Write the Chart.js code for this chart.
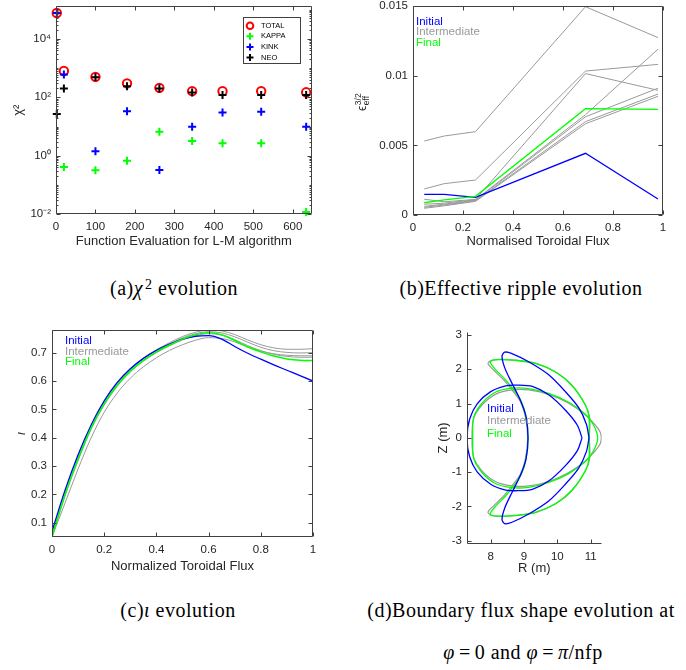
<!DOCTYPE html>
<html>
<head>
<meta charset="utf-8">
<script src="https://cdn.jsdelivr.net/npm/chart.js@4.4.1/dist/chart.umd.min.js"></script>
<style>
  body { margin: 0; background: #fff; }
  #page { position: relative; width: 686px; height: 670px; overflow: hidden; }
  canvas { position: absolute; }
  .cap { position: absolute; transform: translate(-50%, -50%); white-space: nowrap;
         font-family: "Liberation Serif", "DejaVu Serif", serif; font-size: 20px; letter-spacing: 0.5px;
         line-height: 1; color: #000; }
  .cap sup { font-size: 0.7em; vertical-align: 0.45em; line-height: 0; margin-left: 2px; }
  .cap .eq { margin: 0 4px; }
</style>
</head>
<body>
<div id="page">
  <canvas id="chartA" width="330" height="250" style="left:0;top:0"></canvas>
  <canvas id="chartB" width="346" height="250" style="left:340px;top:0"></canvas>
  <canvas id="chartC" width="330" height="260" style="left:0;top:320px"></canvas>
  <canvas id="chartD" width="200" height="260" style="left:420px;top:320px"></canvas>
  <div class="cap" style="left:174px;top:288px">(a)<i>χ</i><sup>2</sup> evolution</div>
  <div class="cap" style="left:521px;top:288px">(b)Effective ripple evolution</div>
  <div class="cap" style="left:178px;top:610px">(c)<i>ι</i> evolution</div>
  <div class="cap" style="left:521px;top:610px">(d)Boundary flux shape evolution at</div>
  <div class="cap" style="left:523px;top:652px"><i>φ</i><span class="eq">=</span>0 and <i>φ</i><span class="eq">=</span><i>π</i>/nfp</div>
</div>
<script>
// (a) chi^2 contributions per function evaluation
const evalA = [2, 20, 100, 180, 262, 345, 422, 520, 634];
const chiTotal = [76000, 790, 500, 300, 210, 162, 162, 162, 148];
const chiKappa = [null, 0.41, 0.32, 0.68, 6.6, 3.2, 2.7, 2.7, 0.012];
const chiKink = [76000, 600, 1.44, 33, 0.33, 9.8, 30, 32, 9.8];
const chiNeo = [27, 200, 480, 240, 200, 145, 120, 120, 120];
const chiTicks = [0.01, 1, 100, 10000];
const chiTickLabels = ['10\u207B\u00B2', '10\u2070', '10\u00B2', '10\u2074'];
const evalTicks = [0, 100, 200, 300, 400, 500, 600];

// (b) effective ripple
const fluxB = [0.045, 0.125, 0.25, 0.69, 0.98];
const epsInitial = [0.00148, 0.00148, 0.00127, 0.00443, 0.00115];
const epsFinal = [0.00088, 0.00108, 0.00134, 0.00763, 0.00758];
const epsMid1 = [0.00531, 0.00567, 0.00598, 0.01495, 0.01273];
const epsMid2 = [0.00187, 0.00225, 0.00251, 0.01033, 0.01081];
const epsMid3 = [0.00113, 0.00095, 0.00112, 0.01015, 0.00895];
const epsMid4 = [0.00077, 0.00085, 0.00110, 0.00720, 0.01190];
const epsMid5 = [0.00062, 0.00078, 0.00106, 0.00705, 0.00910];
const epsMid6 = [0.00055, 0.00072, 0.00102, 0.00670, 0.00868];
const epsMid7 = [0.00048, 0.00066, 0.00098, 0.00655, 0.00852];
const epsTicks = [0, 0.005, 0.01, 0.015];
const epsTickLabels = ['0', '0.005', '0.01', '0.015'];
const fluxTicks = [0, 0.2, 0.4, 0.6, 0.8, 1];
const fluxTickLabels = ['0', '0.2', '0.4', '0.6', '0.8', '1'];

// (c) rotational transform
const fluxC = [0, 0.05, 0.1, 0.15, 0.2, 0.25, 0.3, 0.35, 0.4, 0.45, 0.5, 0.55, 0.6, 0.65, 0.7, 0.75, 0.8, 0.85, 0.9, 0.95, 1];
const iotaInitial = [.07, .215, .34, .445, .53, .595, .643, .68, .708, .73, .748, .758, .76, .748, .722, .698, .677, .657, .638, .619, .60];
const iotaFinal = [.05, .20, .325, .435, .52, .585, .635, .673, .703, .727, .748, .763, .77, .763, .743, .72, .703, .688, .678, .673, .672];
const iotaMid1 = [.06, .21, .335, .443, .528, .592, .642, .68, .71, .735, .757, .772, .78, .777, .764, .745, .728, .717, .712, .712, .714];
const iotaMid2 = [.055, .205, .33, .44, .525, .59, .64, .678, .707, .731, .752, .767, .774, .77, .756, .737, .719, .707, .701, .699, .70];
const iotaMid3 = [.05, .195, .32, .43, .515, .582, .632, .67, .70, .724, .745, .76, .767, .762, .746, .725, .707, .694, .687, .684, .684];
const iotaMid4 = [.05, .17, .29, .40, .49, .558, .61, .65, .682, .708, .728, .744, .753, .75, .738, .72, .706, .696, .691, .689, .689];
const iotaTicks = [0.1, 0.2, 0.3, 0.4, 0.5, 0.6, 0.7];
const iotaTickLabels = ['0.1', '0.2', '0.3', '0.4', '0.5', '0.6', '0.7'];

// (d) boundary cross sections (R, Z in m)
const rInitZero = [10.95, 10.87, 10.64, 10.24, 9.74, 9.14, 8.64, 8.42, 8.34, 8.42, 8.64, 8.89, 9.06, 9.12, 9.06, 8.89, 8.64, 8.42, 8.34, 8.42, 8.64, 9.14, 9.74, 10.24, 10.64, 10.87, 10.95];
const zInitZero = [0, 0.4, 0.88, 1.35, 1.84, 2.22, 2.46, 2.5, 2.38, 2.05, 1.59, 1.1, 0.62, 0, -0.62, -1.1, -1.59, -2.05, -2.38, -2.5, -2.46, -2.22, -1.84, -1.35, -0.88, -0.4, 0];
const rInitPi = [10.74, 10.6, 10.25, 9.75, 9.25, 8.8, 8.45, 8.0, 7.6, 7.37, 7.29, 7.37, 7.6, 8.0, 8.45, 8.8, 9.25, 9.75, 10.25, 10.6, 10.74];
const zInitPi = [0, 0.37, 0.8, 1.25, 1.5, 1.54, 1.52, 1.35, 1.0, 0.55, 0, -0.55, -1.0, -1.35, -1.52, -1.54, -1.5, -1.25, -0.8, -0.37, 0];
const rMidZero = [10.96, 10.97, 10.84, 10.44, 9.94, 9.34, 8.74, 8.24, 7.98, 7.92, 8.09, 8.39, 8.64, 8.89, 9.04, 9.11, 9.04, 8.89, 8.64, 8.39, 8.09, 7.92, 7.98, 8.24, 8.74, 9.34, 9.94, 10.44, 10.84, 10.97, 10.96];
const zMidZero = [0, 0.6, 0.96, 1.54, 1.93, 2.18, 2.27, 2.29, 2.24, 2.16, 1.98, 1.69, 1.40, 1.06, 0.62, 0, -0.62, -1.06, -1.40, -1.69, -1.98, -2.16, -2.24, -2.29, -2.27, -2.18, -1.93, -1.54, -0.96, -0.6, 0];
const rMidPi = [11.32, 11.29, 11.14, 10.84, 10.34, 9.74, 9.14, 8.64, 8.14, 7.74, 7.49, 7.44, 7.49, 7.74, 8.14, 8.64, 9.14, 9.74, 10.34, 10.84, 11.14, 11.29, 11.32];
const zMidPi = [0, 0.16, 0.37, 0.67, 1.01, 1.27, 1.40, 1.40, 1.27, 0.96, 0.57, 0, -0.57, -0.96, -1.27, -1.40, -1.40, -1.27, -1.01, -0.67, -0.37, -0.16, 0];
const rFinalZero = [10.95, 10.95, 10.84, 10.44, 9.94, 9.34, 8.74, 8.24, 8.03, 7.99, 8.14, 8.44, 8.69, 8.92, 9.06, 9.12, 9.06, 8.92, 8.69, 8.44, 8.14, 7.99, 8.03, 8.24, 8.74, 9.34, 9.94, 10.44, 10.84, 10.95, 10.95];
const zFinalZero = [0, 0.6, 0.96, 1.52, 1.92, 2.17, 2.26, 2.28, 2.26, 2.2, 2.0, 1.70, 1.40, 1.06, 0.62, 0, -0.62, -1.06, -1.40, -1.70, -2.0, -2.2, -2.26, -2.28, -2.26, -2.17, -1.92, -1.52, -0.96, -0.6, 0];
const rFinalPi = [11.21, 11.19, 11.09, 10.84, 10.34, 9.74, 9.14, 8.64, 8.14, 7.74, 7.49, 7.46, 7.49, 7.74, 8.14, 8.64, 9.14, 9.74, 10.34, 10.84, 11.09, 11.19, 11.21];
const zFinalPi = [0, 0.13, 0.37, 0.69, 1.04, 1.30, 1.44, 1.45, 1.33, 1.01, 0.59, 0, -0.59, -1.01, -1.33, -1.45, -1.44, -1.30, -1.04, -0.69, -0.37, -0.13, 0];
const rTicks = [8, 9, 10, 11];
const zTicks = [-3, -2, -1, 0, 1, 2, 3];

const BLUE = '#0000ff', GREEN = '#00ff00', GRAY = '#999999', AXIS = '#404040';
const legendNames = ['Initial', 'Intermediate', 'Final'];
const legendColors = [BLUE, GRAY, GREEN];
const TITLE_SIZE = 13;

Chart.defaults.font.family = '"Liberation Sans", Arial, sans-serif';
Chart.defaults.color = '#262626';
Chart.defaults.animation = false;
Chart.defaults.responsive = false;
Chart.defaults.plugins.legend.display = false;
Chart.defaults.plugins.tooltip.enabled = false;

function axis(min, max, ticks, labels, size, title, extra) {
  const horiz = size.h !== undefined;
  return Object.assign({
    min: min, max: max,
    grid: { display: false, drawTicks: false },
    border: { display: false },
    afterBuildTicks: s => { s.ticks = ticks.map(v => ({ value: v })); },
    afterFit: s => {
      if (horiz) s.height = size.h; else s.width = size.w;
      s.paddingLeft = s.paddingRight = s.paddingTop = s.paddingBottom = 0;
    },
    ticks: { autoSkip: false, maxRotation: 0, padding: horiz ? 6 : 5, font: { size: 11.5 },
             callback: (v, i) => labels[i] },
    title: title
  }, extra || {});
}

// box, inward tick marks and in-axes legend text, MATLAB style
function frame(box, texts, minorY) {
  return {
    id: 'frame',
    afterDatasetsDraw(chart) {
      const ctx = chart.ctx, a = chart.chartArea;
      const sx = chart.scales.x, sy = chart.scales.y;
      const L = Math.round(a.left) + 0.5, R = Math.round(a.right) - 0.5;
      const T = Math.round(a.top) + 0.5, B = Math.round(a.bottom) - 0.5;
      ctx.save();
      ctx.strokeStyle = AXIS;
      ctx.lineWidth = 1;
      ctx.beginPath();
      ctx.moveTo(L, T); ctx.lineTo(L, B); ctx.lineTo(R, B);
      if (box) { ctx.lineTo(R, T); ctx.lineTo(L, T); }
      sx.ticks.forEach(t => {
        const p = Math.round(sx.getPixelForValue(t.value)) + 0.5;
        ctx.moveTo(p, B); ctx.lineTo(p, B - 4);
        if (box) { ctx.moveTo(p, T); ctx.lineTo(p, T + 4); }
      });
      const ys = sy.ticks.map(t => [t.value, 4]).concat((minorY || []).map(v => [v, 2]));
      ys.forEach(([v, l]) => {
        const p = Math.round(sy.getPixelForValue(v)) + 0.5;
        ctx.moveTo(L, p); ctx.lineTo(L + l, p);
        if (box) { ctx.moveTo(R, p); ctx.lineTo(R - l, p); }
      });
      ctx.stroke();
      if (texts) {
        ctx.font = '11.5px "Liberation Sans", Arial, sans-serif';
        ctx.textBaseline = 'middle';
        texts.ys.forEach((y, i) => {
          ctx.fillStyle = legendColors[i];
          ctx.fillText(legendNames[i], texts.x, y);
        });
      }
      ctx.restore();
    }
  };
}

const pts = (xs, ys) => xs.map((x, i) => ({ x: x, y: ys[i] })).filter(p => p.y !== null);
const curve = (xs, ys, color, w, order, extra) => Object.assign({
  data: pts(xs, ys), showLine: true, borderColor: color, borderWidth: w,
  pointRadius: 0, tension: 0, order: order
}, extra || {});

// ---------- (a) ----------
const minorA = [];
for (let e = -2; e <= 5; e++) {
  for (let k = 1; k <= 9; k++) {
    const v = k * Math.pow(10, e);
    if (v > 0.01 && v < 1.3e5 && !chiTicks.includes(v)) minorA.push(v);
  }
}
const legendA = {
  id: 'legendA',
  afterDatasetsDraw(chart) {
    const ctx = chart.ctx;
    ctx.save();
    ctx.fillStyle = '#fff';
    ctx.fillRect(243, 17, 57, 46);
    ctx.strokeStyle = AXIS; ctx.lineWidth = 1;
    ctx.strokeRect(243.5, 17.5, 57, 46);
    ctx.font = '7.5px "Liberation Sans", Arial, sans-serif';
    ctx.textBaseline = 'middle';
    chart.data.datasets.forEach((d, i) => {
      const y = 25.7 + i * 10.6, x = 250;
      ctx.strokeStyle = d.borderColor; ctx.lineWidth = 2;
      ctx.beginPath();
      if (d.pointStyle === 'circle') ctx.arc(x, y, 3.3, 0, Math.PI * 2);
      else { ctx.moveTo(x - 3.5, y); ctx.lineTo(x + 3.5, y); ctx.moveTo(x, y - 3.5); ctx.lineTo(x, y + 3.5); }
      ctx.stroke();
      ctx.fillStyle = '#000';
      ctx.fillText(d.label, 261, y);
    });
    ctx.restore();
  }
};
const markA = (label, ys, color, style, order) => ({
  label: label, data: pts(evalA, ys), pointStyle: style, borderColor: color,
  backgroundColor: 'rgba(0,0,0,0)', pointBorderWidth: 2,
  pointRadius: style === 'circle' ? 4.2 : 4, order: order, clip: false
});
new Chart(document.getElementById('chartA'), {
  type: 'scatter',
  data: { datasets: [
    markA('TOTAL', chiTotal, '#ff0000', 'circle', 4),
    markA('KAPPA', chiKappa, '#00ff00', 'cross', 3),
    markA('KINK', chiKink, '#0000ff', 'cross', 2),
    markA('NEO', chiNeo, '#000000', 'cross', 1)
  ] },
  options: {
    layout: { padding: { left: 0, right: 18.3, top: 2, bottom: 0 } },
    scales: {
      x: axis(0, 648, evalTicks, evalTicks.map(String), { h: 35.7 },
        { display: true, text: 'Function Evaluation for L-M algorithm', font: { size: TITLE_SIZE }, padding: { bottom: 1.2 } }),
      y: axis(0.01, 1.3e5, chiTicks, chiTickLabels, { w: 56 },
        { display: true, text: 'χ²', font: { size: TITLE_SIZE }, padding: { top: 10.2 } },
        { type: 'logarithmic' })
    }
  },
  plugins: [frame(true, null, minorA), legendA]
});

// ---------- (b) ----------
const epsTitle = {
  id: 'epsTitle',
  afterDraw(chart) {
    const ctx = chart.ctx;
    ctx.save();
    ctx.translate(26, 111);
    ctx.rotate(-Math.PI / 2);
    ctx.fillStyle = '#262626';
    ctx.textBaseline = 'alphabetic';
    ctx.font = '12px "Liberation Sans", Arial, sans-serif';
    ctx.fillText('ϵ', 0, 0);
    const w = ctx.measureText('ϵ').width;
    ctx.font = '8.5px "Liberation Sans", Arial, sans-serif';
    ctx.fillText('3/2', w + 0.5, -5);
    ctx.fillText('eff', w + 0.5, 2.5);
    ctx.restore();
  }
};
new Chart(document.getElementById('chartB'), {
  type: 'scatter',
  data: { datasets: [
    curve(fluxB, epsMid1, GRAY, 1, 5), curve(fluxB, epsMid2, GRAY, 1, 5),
    curve(fluxB, epsMid3, GRAY, 1, 5), curve(fluxB, epsMid4, GRAY, 1, 5),
    curve(fluxB, epsMid5, GRAY, 1, 5), curve(fluxB, epsMid6, GRAY, 1, 5),
    curve(fluxB, epsMid7, GRAY, 1, 5),
    curve(fluxB, epsInitial, BLUE, 1.3, 2),
    curve(fluxB, epsFinal, GREEN, 1.3, 1)
  ] },
  options: {
    layout: { padding: { left: 0, right: 23, top: 6, bottom: 0 } },
    scales: {
      x: axis(0, 1, fluxTicks, fluxTickLabels, { h: 35 },
        { display: true, text: 'Normalised Toroidal Flux', font: { size: TITLE_SIZE }, padding: { bottom: 1.2 } }),
      y: axis(0, 0.015, epsTicks, epsTickLabels, { w: 73 }, { display: false })
    }
  },
  plugins: [frame(true, { x: 76, ys: [21.5, 32, 42.5] }), epsTitle]
});

// ---------- (c) ----------
const smooth = { cubicInterpolationMode: 'monotone' };
new Chart(document.getElementById('chartC'), {
  type: 'scatter',
  data: { datasets: [
    curve(fluxC, iotaMid1, GRAY, 1, 5, smooth), curve(fluxC, iotaMid2, GRAY, 1, 5, smooth),
    curve(fluxC, iotaMid3, GRAY, 1, 5, smooth), curve(fluxC, iotaMid4, GRAY, 1, 5, smooth),
    curve(fluxC, iotaInitial, BLUE, 1.3, 2, smooth),
    curve(fluxC, iotaFinal, GREEN, 1.5, 1, smooth)
  ] },
  options: {
    layout: { padding: { left: 0, right: 17, top: 10, bottom: 0 } },
    scales: {
      x: axis(0, 1, fluxTicks, fluxTickLabels, { h: 43 },
        { display: true, text: 'Normalized Toroidal Flux', font: { size: TITLE_SIZE }, padding: { bottom: 5.5 } }),
      y: axis(0.05, 0.78, iotaTicks, iotaTickLabels, { w: 52 },
        { display: true, text: 'ι', font: { size: TITLE_SIZE, style: 'italic' }, padding: { top: 13.9 } })
    }
  },
  plugins: [frame(true, { x: 65, ys: [20.7, 31.5, 42.3] })]
});

// ---------- (d) ----------
const loop = { tension: 0.3 };
new Chart(document.getElementById('chartD'), {
  type: 'scatter',
  data: { datasets: [
    curve(rMidZero, zMidZero, GRAY, 1.2, 5, loop), curve(rMidPi, zMidPi, GRAY, 1.2, 5, loop),
    curve(rFinalZero, zFinalZero, GREEN, 1.3, 3, loop), curve(rFinalPi, zFinalPi, GREEN, 1.3, 3, loop),
    curve(rInitZero, zInitZero, BLUE, 1.3, 1, loop), curve(rInitPi, zInitPi, BLUE, 1.3, 1, loop)
  ] },
  options: {
    layout: { padding: { left: 0, right: 18.3, top: 11.6, bottom: 0 } },
    scales: {
      x: axis(7.29, 11.33, rTicks, rTicks.map(String), { h: 35.8 },
        { display: true, text: 'R (m)', font: { size: TITLE_SIZE }, padding: { bottom: 4.2 } }),
      y: axis(-3.1, 3.1, zTicks, zTicks.map(String), { w: 47 },
        { display: true, text: 'Z (m)', font: { size: TITLE_SIZE }, padding: { top: 15.5 } })
    }
  },
  plugins: [frame(false, { x: 67, ys: [88.5, 101, 113.5] })]
});
</script>
</body>
</html>
